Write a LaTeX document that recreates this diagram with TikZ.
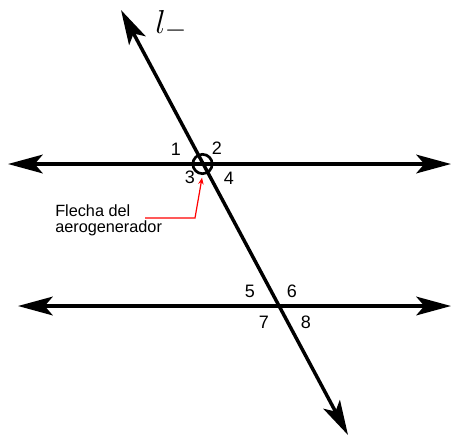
\documentclass[tikz,border=0pt]{standalone}
\usepackage{fontspec}
\setmainfont{Liberation Sans}
\usetikzlibrary{arrows.meta}

\begin{document}
\begin{tikzpicture}
    [x=0.75pt, y=-0.75pt,
    line/.style={
        draw, line width=2.6pt,
        {Stealth[length=26pt,width=14pt,inset=6pt]}-{Stealth[length=26pt,width=14pt,inset=6pt]}
    },
    num/.style={font=\fontsize{13.5}{15}\selectfont, inner sep=0pt},
    pointer/.style={
        draw, red, line width=0.9pt, -{Stealth[length=5pt,width=4pt]}, shorten >=2pt
    },
    ring/.style={draw, circle, line width=2pt, minimum size=14.5pt, inner sep=0pt}
    ]
    \useasboundingbox (0,0) rectangle (453,436);

    % Extremos de las rectas
    \coordinate (Ttop) at (121,10);
    \coordinate (Tbot) at (348,435);
    \coordinate (Aleft) at (8,164);
    \coordinate (Aright) at (451,164);
    \coordinate (Bleft) at (18,306);
    \coordinate (Bright) at (451,306);

    % Rectas
    \path [line] (Aleft) -- (Aright);
    \path [line] (Bleft) -- (Bright);
    \path [line] (Ttop) -- (Tbot);

    % Nombre de la transversal
    \node[anchor=base west, inner sep=0pt, font=\fontsize{29}{32}\selectfont] (lname) at (155,33) {$l_{-}$};

    % Intersecciones
    \node[ring] (cross1) at (202.5,164) {};
    \coordinate (cross2) at (280,306);

    % Angulos
    \foreach \num/\pos in {1/{(176,149.5)}, 2/{(217,148)}, 3/{(190,177)}, 4/{(229,178)},
                           5/{(250,291)}, 6/{(292,291)}, 7/{(264,322)}, 8/{(306,322)}}{
        \node[num] (ang\num) at \pos {\num};
    }

    % Flecha del aerogenerador
    \node[anchor=north west, align=left, inner sep=0pt, font=\fontsize{12.2}{12.6}\selectfont] (flecha) at (55,204) {Flecha del\\aerogenerador};
    \coordinate (pstart) at (145,218);
    \coordinate (pbend) at (195,218);
    \path [pointer] (pstart) -- (pbend) -- (cross1.south);
\end{tikzpicture}
\end{document}
